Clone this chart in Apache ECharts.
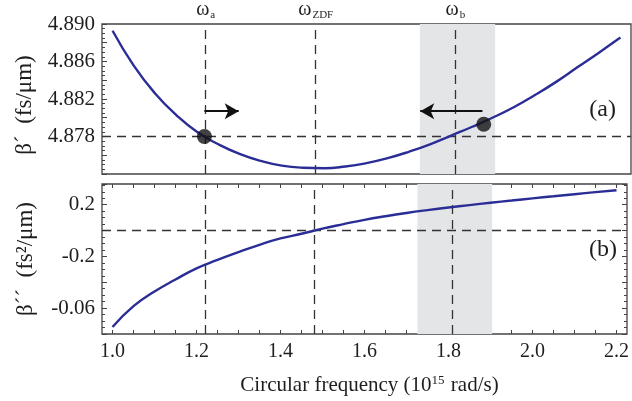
<!DOCTYPE html>
<html>
<head>
<meta charset="utf-8">
<script src="https://cdn.jsdelivr.net/npm/echarts@6/dist/echarts.min.js"></script>
<style>
  html, body { margin: 0; padding: 0; background: #fff; }
  #chart { width: 632px; height: 401px; }
</style>
</head>
<body>
<div id="chart"></div>
<script>
const omega = [1.00, 1.05, 1.10, 1.15, 1.20, 1.25, 1.30, 1.35, 1.40, 1.45, 1.50, 1.55, 1.60,
  1.65, 1.70, 1.75, 1.80, 1.85, 1.90, 1.95, 2.00, 2.05, 2.10, 2.15, 2.20];
const betaOne = [4.88928, 4.88556, 4.88262, 4.88031, 4.87847, 4.87717, 4.87615, 4.87540, 4.87489,
  4.87467, 4.87462, 4.87480, 4.87516, 4.87569, 4.87637, 4.87717, 4.87810, 4.87904, 4.88005,
  4.88118, 4.88247, 4.88388, 4.88543, 4.88697, 4.88855];
const betaTwo = [-0.746, -0.585, -0.472, -0.379, -0.292, -0.227, -0.167, -0.110, -0.061, -0.025,
  0.015, 0.050, 0.083, 0.111, 0.136, 0.158, 0.178, 0.197, 0.215, 0.232, 0.249, 0.265, 0.281,
  0.297, 0.312];

const omegaA = 1.217, omegaZDF = 1.484, omegaB = 1.812;
const shadeRange = [1.726, 1.904];
const dots = [[1.217, 4.878], [1.877, 4.8793]];
const arrowRight = [[1.217, 4.8807], [1.298, 4.8807]];
const arrowLeft = [[1.874, 4.8807], [1.727, 4.8807]];
const betaOneRef = 4.878;
const betaTwoRef = 0;

const xRange = [0.975, 2.225];
const xTickValues = [1.0, 1.05, 1.1, 1.15, 1.2, 1.25, 1.3, 1.35, 1.4, 1.45, 1.5, 1.55, 1.6, 1.65,
  1.7, 1.75, 1.8, 1.85, 1.9, 1.95, 2.0, 2.05, 2.1, 2.15, 2.2];
const xLabelValues = [1.0, 1.2, 1.4, 1.6, 1.8, 2.0, 2.2];
const topLabelValues = [4.878, 4.882, 4.886, 4.890];
const bottomLabelValues = [0.2, -0.2, -0.6];
const bottomLabelTexts = ['0.2', '-0.2', '-0.06'];

const serif = 'Liberation Serif';
const txt = '#1e1e1e';
const frame = '#444';
const dash = [9, 6];

const chart = echarts.init(document.getElementById('chart'));

const pairs = (ys) => omega.map((w, i) => [w, ys[i]]);

// vertical dashed guide, optional omega label on top
const vLine = (x, sub) => ({
  xAxis: x,
  label: sub ? {
    show: true, position: 'end', distance: 3,
    formatter: '{w|ω}{s|' + sub + '}',
    rich: {
      w: { fontFamily: serif, fontSize: 20, color: txt },
      s: { fontFamily: serif, fontSize: 11, color: txt, padding: [12, 0, 0, 1] }
    }
  } : { show: false }
});
const hLine = (y) => [{ coord: [xRange[0], y] }, { coord: [xRange[1], y] }];

const xBase = {
  type: 'value', min: xRange[0], max: xRange[1], interval: 0.025,
  axisLine: { show: false, onZero: false }, splitLine: { show: false }
};
const tickStyle = { color: frame, width: 1 };

const option = {
  animation: false,
  grid: [
    { left: 102, right: 1, top: 24, height: 150, show: true, borderColor: frame, borderWidth: 1.3, backgroundColor: '#fff' },
    { left: 102, right: 1, top: 184, height: 150, show: true, borderColor: frame, borderWidth: 1.3, backgroundColor: '#fff' }
  ],
  xAxis: [
    Object.assign({}, xBase, { gridIndex: 0, axisTick: { show: false }, axisLabel: { show: false } }),
    Object.assign({}, xBase, {
      gridIndex: 1, position: 'bottom',
      axisTick: { show: true, inside: true, length: 4, customValues: xTickValues, lineStyle: tickStyle },
      axisLabel: { customValues: xLabelValues, formatter: (v) => v.toFixed(1), fontFamily: serif, fontSize: 20, color: txt, margin: 8 },
      name: '{n|Circular frequency (10}{s|15}{n| rad/s)}',
      nameLocation: 'middle', nameGap: 40,
      nameTextStyle: {
        padding: [0, 0, 0, 10],
        rich: {
          n: { fontFamily: serif, fontSize: 21, color: txt },
          s: { fontFamily: serif, fontSize: 13, color: txt, padding: [0, 1, 9, 0] }
        }
      }
    }),
    Object.assign({}, xBase, {
      gridIndex: 1, position: 'top',
      axisTick: { show: true, inside: true, length: 4, customValues: xTickValues, lineStyle: tickStyle },
      axisLabel: { show: false }
    })
  ],
  yAxis: [
    { type: 'value', gridIndex: 0, min: 4.874, max: 4.890, interval: 0.002,
      axisLine: { show: false, onZero: false },
      axisTick: { show: true, inside: true, length: 5, lineStyle: tickStyle },
      minorTick: { show: true, splitNumber: 4, length: 3, lineStyle: tickStyle },
      axisLabel: { customValues: topLabelValues, formatter: (v) => v.toFixed(3), fontFamily: serif, fontSize: 21, color: txt, margin: 7 },
      splitLine: { show: false },
      name: 'β´  (fs/μm)', nameLocation: 'middle', nameGap: 65, nameRotate: 90,
      nameTextStyle: { fontFamily: serif, fontSize: 23, color: txt, padding: [0, 12, 0, 0] }
    },
    { type: 'value', gridIndex: 1, min: -0.8, max: 0.36, interval: 0.2,
      axisLine: { show: false, onZero: false },
      axisTick: { show: true, inside: true, length: 5, lineStyle: tickStyle },
      minorTick: { show: true, splitNumber: 4, length: 3, lineStyle: tickStyle },
      axisLabel: {
        customValues: bottomLabelValues,
        formatter: (v) => bottomLabelTexts[bottomLabelValues.findIndex((b) => Math.abs(b - v) < 1e-6)] || '',
        fontFamily: serif, fontSize: 21, color: txt, margin: 7
      },
      splitLine: { show: false },
      name: 'β´´  (fs²/μm)', nameLocation: 'middle', nameGap: 65, nameRotate: 90,
      nameTextStyle: { fontFamily: serif, fontSize: 23, color: txt }
    },
    { type: 'value', gridIndex: 1, position: 'right', min: -0.8, max: 0.36, interval: 0.2,
      axisLine: { show: false, onZero: false },
      axisTick: { show: true, inside: true, length: 5, lineStyle: tickStyle },
      minorTick: { show: true, splitNumber: 4, length: 3, lineStyle: tickStyle },
      axisLabel: { show: false }, splitLine: { show: false } }
  ],
  series: [
    {
      name: 'beta1', type: 'line', xAxisIndex: 0, yAxisIndex: 0,
      data: pairs(betaOne), smooth: true, showSymbol: false, z: 5,
      lineStyle: { color: '#2b2d96', width: 2.4 },
      markArea: {
        silent: true, itemStyle: { color: '#e4e5e7' },
        data: [[{ xAxis: shadeRange[0] }, { xAxis: shadeRange[1] }]]
      },
      markLine: {
        silent: true, symbol: ['none', 'none'], z: 3,
        lineStyle: { color: '#333', width: 1.3, type: dash },
        label: { show: false },
        data: [vLine(omegaA, 'a'), vLine(omegaZDF, 'ZDF'), vLine(omegaB, 'b'), hLine(betaOneRef)]
      }
    },
    {
      name: 'arrows', type: 'line', xAxisIndex: 0, yAxisIndex: 0, data: [],
      markLine: {
        silent: true, symbol: ['none', 'arrow'], symbolSize: [12, 14], z: 6,
        lineStyle: { color: '#111', width: 2, type: 'solid' },
        label: { show: false },
        data: [
          [{ coord: arrowRight[0] }, { coord: arrowRight[1] }],
          [{ coord: arrowLeft[0] }, { coord: arrowLeft[1] }]
        ]
      }
    },
    {
      name: 'points', type: 'scatter', xAxisIndex: 0, yAxisIndex: 0,
      data: dots, symbolSize: 15, z: 7, itemStyle: { color: '#111' }
    },
    {
      name: 'beta2', type: 'line', xAxisIndex: 1, yAxisIndex: 1,
      data: pairs(betaTwo), smooth: true, showSymbol: false, z: 5,
      lineStyle: { color: '#2b2d96', width: 2.4 },
      markArea: {
        silent: true, itemStyle: { color: '#e4e5e7' },
        data: [[{ xAxis: shadeRange[0] }, { xAxis: shadeRange[1] }]]
      },
      markLine: {
        silent: true, symbol: ['none', 'none'], z: 3,
        lineStyle: { color: '#333', width: 1.3, type: dash },
        label: { show: false },
        data: [vLine(omegaA), vLine(omegaZDF), vLine(omegaB), hLine(betaTwoRef)]
      }
    }
  ],
  graphic: [
    { type: 'text', right: 16, top: 98, style: { text: '(a)', font: '24px "Liberation Serif"', fill: txt } },
    { type: 'text', right: 15, top: 238, style: { text: '(b)', font: '24px "Liberation Serif"', fill: txt } }
  ]
};

chart.setOption(option);
</script>
</body>
</html>
